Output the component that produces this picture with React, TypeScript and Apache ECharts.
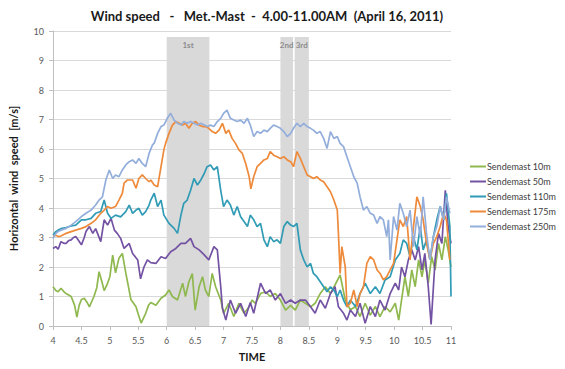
import React, { useEffect, useRef } from "react";
import * as echarts from "echarts";

const seriesNames = ["Sendemast 10m", "Sendemast 50m", "Sendemast 110m", "Sendemast 175m", "Sendemast 250m"];
const seriesColors = ["#8fb84e", "#7452a3", "#2f9bb5", "#ee8a3a", "#93aedb"];
const xTicks = [4, 4.5, 5, 5.5, 6, 6.5, 7, 7.5, 8, 8.5, 9, 9.5, 10, 10.5, 11];
const bandNames = ["1st", "2nd", "3rd"];
const bandStart = [6.0, 8.0, 8.25];
const bandEnd = [6.75, 8.22, 8.5];
const bandTop = 9.8;

const s10 = [[4.0,1.33],[4.05,1.2],[4.09,1.16],[4.14,1.28],[4.2,1.15],[4.23,1.1],[4.32,1.0],[4.38,0.7],[4.42,0.3],[4.46,0.7],[4.5,0.9],[4.55,0.94],[4.6,0.8],[4.64,0.65],[4.72,1.0],[4.77,1.3],[4.81,1.84],[4.86,1.5],[4.9,1.2],[4.95,1.4],[5.0,1.67],[5.05,2.4],[5.1,1.8],[5.16,2.3],[5.22,2.46],[5.28,1.8],[5.33,1.3],[5.37,0.9],[5.46,0.65],[5.5,0.4],[5.55,0.1],[5.63,0.43],[5.68,0.7],[5.72,0.8],[5.81,0.7],[5.9,0.94],[5.98,1.05],[6.04,1.22],[6.1,1.0],[6.19,0.88],[6.28,1.45],[6.33,1.0],[6.39,1.5],[6.45,1.78],[6.5,0.54],[6.57,1.33],[6.63,1.67],[6.68,1.22],[6.74,1.0],[6.8,1.78],[6.86,1.33],[6.95,0.88],[7.0,0.43],[7.09,0.77],[7.18,0.32],[7.27,0.77],[7.36,0.43],[7.45,0.65],[7.5,0.88],[7.56,0.77],[7.65,1.1],[7.74,1.16],[7.82,1.0],[7.91,1.1],[8.0,0.88],[8.09,0.54],[8.18,0.7],[8.26,0.54],[8.35,0.88],[8.44,0.77],[8.53,0.65],[8.61,0.77],[8.7,1.1],[8.79,1.33],[8.88,1.1],[8.96,1.39],[9.05,1.73],[9.14,0.88],[9.23,0.55],[9.32,0.66],[9.4,0.32],[9.49,0.77],[9.58,0.37],[9.67,0.66],[9.75,0.32],[9.84,0.66],[9.93,0.48],[10.02,0.77],[10.08,0.2],[10.13,0.88],[10.19,1.67],[10.25,1.0],[10.31,1.9],[10.37,1.33],[10.43,2.24],[10.49,1.67],[10.54,2.24],[10.6,1.45],[10.66,2.35],[10.72,1.9],[10.78,2.8],[10.84,2.24],[10.9,3.03],[10.95,2.58],[11.0,2.0]];

const s50 = [[4.0,2.63],[4.05,2.69],[4.09,2.6],[4.14,2.86],[4.2,2.8],[4.23,2.8],[4.28,2.9],[4.32,2.92],[4.36,3.0],[4.4,3.03],[4.45,2.9],[4.5,2.75],[4.55,3.0],[4.58,3.2],[4.64,3.37],[4.7,3.14],[4.75,3.3],[4.84,2.86],[4.9,3.6],[4.96,3.42],[5.02,3.65],[5.08,3.25],[5.13,3.14],[5.19,2.97],[5.25,2.63],[5.34,2.8],[5.4,2.46],[5.49,2.24],[5.54,1.6],[5.6,2.0],[5.66,2.24],[5.72,2.15],[5.81,2.12],[5.9,2.35],[5.98,2.29],[6.07,2.52],[6.16,2.63],[6.25,2.8],[6.33,2.8],[6.42,2.97],[6.48,2.69],[6.57,2.58],[6.66,2.41],[6.74,2.24],[6.83,2.69],[6.89,2.58],[6.95,1.33],[6.98,0.6],[7.04,0.2],[7.12,0.88],[7.21,0.43],[7.3,0.77],[7.39,0.32],[7.47,0.8],[7.53,0.43],[7.65,1.45],[7.74,1.1],[7.82,1.22],[7.91,0.88],[8.0,1.1],[8.09,0.77],[8.18,0.88],[8.26,0.77],[8.35,0.88],[8.44,0.88],[8.53,0.65],[8.61,0.43],[8.7,0.88],[8.79,0.6],[8.88,1.1],[8.96,1.33],[9.02,0.65],[9.11,0.43],[9.17,0.2],[9.23,0.54],[9.32,0.32],[9.4,0.77],[9.49,0.09],[9.58,0.66],[9.67,0.32],[9.75,0.88],[9.84,0.54],[9.93,1.1],[10.02,1.45],[10.08,1.22],[10.13,2.0],[10.19,1.67],[10.25,2.24],[10.31,2.58],[10.37,2.24],[10.43,2.69],[10.49,1.9],[10.54,2.46],[10.6,1.33],[10.65,0.05],[10.72,2.24],[10.78,3.14],[10.84,2.8],[10.9,4.6],[10.95,3.37],[11.0,2.8]];

const s110 = [[4.0,3.08],[4.05,3.2],[4.09,3.25],[4.14,3.3],[4.23,3.34],[4.32,3.39],[4.4,3.42],[4.5,3.6],[4.58,3.6],[4.67,3.65],[4.75,3.82],[4.84,3.88],[4.9,4.27],[4.96,3.82],[5.02,3.65],[5.1,3.76],[5.19,3.7],[5.28,3.88],[5.34,4.1],[5.4,3.82],[5.46,3.93],[5.51,3.99],[5.57,3.76],[5.63,3.88],[5.69,4.1],[5.72,4.27],[5.78,4.5],[5.84,4.05],[5.9,4.27],[5.95,3.76],[6.04,3.48],[6.13,3.31],[6.19,3.14],[6.25,3.76],[6.3,4.16],[6.36,4.27],[6.42,4.6],[6.48,5.0],[6.54,4.78],[6.6,4.95],[6.66,5.17],[6.71,5.4],[6.77,5.46],[6.83,5.29],[6.89,5.4],[6.95,4.6],[7.0,4.05],[7.06,4.27],[7.12,4.1],[7.18,3.76],[7.24,4.05],[7.3,3.7],[7.36,3.54],[7.42,3.37],[7.47,3.76],[7.53,3.6],[7.59,3.37],[7.65,3.48],[7.71,2.92],[7.77,2.69],[7.82,3.03],[7.88,2.86],[7.94,2.92],[8.0,2.8],[8.06,3.37],[8.12,3.54],[8.18,3.42],[8.23,3.37],[8.29,3.48],[8.35,2.58],[8.41,2.24],[8.47,2.0],[8.53,2.12],[8.58,1.78],[8.64,1.67],[8.7,1.5],[8.76,1.33],[8.82,1.16],[8.88,1.33],[8.94,1.22],[9.0,1.0],[9.05,1.22],[9.11,0.88],[9.17,0.65],[9.23,0.88],[9.32,0.66],[9.4,1.1],[9.49,1.45],[9.58,1.1],[9.67,1.33],[9.75,1.1],[9.84,1.56],[9.93,1.67],[10.02,2.24],[10.1,2.46],[10.16,2.92],[10.22,2.8],[10.28,2.35],[10.34,3.03],[10.4,2.58],[10.46,3.37],[10.51,2.58],[10.57,2.92],[10.63,2.24],[10.69,3.03],[10.75,3.6],[10.81,4.05],[10.87,3.6],[10.92,4.5],[10.98,3.37],[11.0,1.0]];

const s175 = [[4.0,3.03],[4.05,3.08],[4.09,3.03],[4.14,3.05],[4.23,3.14],[4.32,3.2],[4.4,3.25],[4.5,3.31],[4.58,3.37],[4.67,3.48],[4.75,3.6],[4.84,3.82],[4.9,3.93],[4.96,4.05],[5.02,3.99],[5.1,4.05],[5.16,4.27],[5.22,4.5],[5.25,4.84],[5.31,4.95],[5.4,4.95],[5.46,4.67],[5.51,5.0],[5.57,5.12],[5.63,5.0],[5.69,4.89],[5.72,4.95],[5.78,4.78],[5.84,4.72],[5.9,5.4],[5.95,5.97],[5.98,6.19],[6.04,6.53],[6.1,6.81],[6.16,6.93],[6.22,6.87],[6.28,6.81],[6.33,6.87],[6.39,6.7],[6.45,6.87],[6.51,6.93],[6.57,6.81],[6.63,6.76],[6.68,6.76],[6.74,6.7],[6.8,6.59],[6.86,6.53],[6.92,6.64],[6.98,6.87],[7.04,6.53],[7.09,6.64],[7.15,6.36],[7.21,6.19],[7.27,5.97],[7.33,5.85],[7.39,5.5],[7.45,5.06],[7.48,4.65],[7.53,5.06],[7.59,5.4],[7.65,5.51],[7.71,5.63],[7.77,5.68],[7.82,5.91],[7.88,5.79],[7.94,5.74],[8.0,5.68],[8.06,5.74],[8.12,5.63],[8.18,5.57],[8.23,5.4],[8.29,5.91],[8.35,5.68],[8.41,5.4],[8.47,5.12],[8.53,5.06],[8.58,5.0],[8.64,5.06],[8.7,4.95],[8.76,4.89],[8.82,4.72],[8.88,4.55],[8.94,4.27],[9.0,3.93],[9.02,3.14],[9.05,1.78],[9.08,2.69],[9.14,2.0],[9.17,0.65],[9.23,0.77],[9.29,1.22],[9.35,0.66],[9.4,1.1],[9.46,1.33],[9.52,2.12],[9.58,2.35],[9.64,2.24],[9.7,1.9],[9.75,1.79],[9.81,1.56],[9.87,1.67],[9.93,1.9],[9.99,2.12],[10.05,2.92],[10.1,3.6],[10.16,3.37],[10.22,3.71],[10.28,2.24],[10.34,3.37],[10.4,4.38],[10.46,4.05],[10.51,3.6],[10.57,2.8],[10.63,2.24],[10.69,2.8],[10.75,3.03],[10.81,3.37],[10.87,3.82],[10.92,3.6],[10.98,2.24]];

const s250 = [[4.0,2.97],[4.05,3.14],[4.09,3.2],[4.14,3.25],[4.23,3.31],[4.32,3.42],[4.4,3.54],[4.5,3.71],[4.58,3.82],[4.67,3.93],[4.75,4.1],[4.81,4.27],[4.87,4.38],[4.93,4.95],[4.99,5.29],[5.05,5.0],[5.1,5.12],[5.16,5.06],[5.22,5.29],[5.28,5.46],[5.34,5.57],[5.4,5.63],[5.46,5.51],[5.51,5.68],[5.57,5.51],[5.63,5.4],[5.69,5.85],[5.75,6.14],[5.78,6.2],[5.84,6.53],[5.9,6.76],[5.95,6.81],[6.01,7.04],[6.07,7.21],[6.13,6.98],[6.19,6.87],[6.25,6.81],[6.3,6.93],[6.36,6.87],[6.42,6.93],[6.48,6.87],[6.54,6.81],[6.6,6.87],[6.66,6.81],[6.71,6.76],[6.77,6.81],[6.83,6.76],[6.89,6.93],[6.95,7.04],[7.0,7.21],[7.06,7.32],[7.12,7.04],[7.18,6.98],[7.24,6.93],[7.3,6.98],[7.36,6.87],[7.42,7.04],[7.47,6.81],[7.53,6.42],[7.59,6.59],[7.65,6.53],[7.71,6.64],[7.77,6.59],[7.82,6.7],[7.88,6.81],[7.94,6.76],[8.0,6.7],[8.06,6.59],[8.12,6.42],[8.18,6.53],[8.23,6.7],[8.29,6.87],[8.35,6.76],[8.41,6.87],[8.47,6.76],[8.53,6.7],[8.58,6.64],[8.64,6.53],[8.7,6.59],[8.76,6.36],[8.82,6.02],[8.88,6.59],[8.94,6.36],[9.0,6.42],[9.05,6.19],[9.11,6.08],[9.17,5.74],[9.23,5.4],[9.29,5.06],[9.35,4.84],[9.4,4.38],[9.46,3.93],[9.52,4.05],[9.58,3.82],[9.64,3.76],[9.7,3.48],[9.75,3.71],[9.81,3.6],[9.87,3.03],[9.9,3.6],[9.93,2.24],[9.99,3.71],[10.05,3.25],[10.1,4.16],[10.16,3.82],[10.22,3.37],[10.28,3.93],[10.34,2.69],[10.4,3.71],[10.46,3.03],[10.51,4.38],[10.57,3.14],[10.63,2.24],[10.69,3.03],[10.75,3.37],[10.81,4.05],[10.87,3.6],[10.92,4.38],[10.98,3.82]];

const allSeries = [s10, s50, s110, s175, s250];
const FONT = "Lato";

export default function App() {
  const ref = useRef<HTMLDivElement>(null);
  useEffect(() => {
    const chart = echarts.init(ref.current!, null, { renderer: "svg" });
    const bands = bandNames.map((n, i) => [
      { name: n, coord: [bandStart[i], 0] },
      { coord: [bandEnd[i], bandTop] },
    ]);
    chart.setOption({
      animation: false,
      backgroundColor: "#ffffff",
      textStyle: { fontFamily: FONT },
      title: {
        text: "Wind speed   -   Met.-Mast  -  4.00-11.00AM  (April 16, 2011)",
        left: 262,
        textAlign: "center",
        top: 4,
        textStyle: { fontFamily: FONT, fontSize: 13, fontWeight: "bold", color: "#1a1a1a" },
      },
      legend: {
        orient: "vertical",
        left: 470,
        top: 162,
        width: 94,
        padding: 0,
        itemWidth: 16,
        itemHeight: 10,
        itemGap: 6,
        icon: "path://M0,4 L16,4 L16,6 L0,6 Z",
        textStyle: { fontFamily: FONT, fontSize: 9, color: "#404040", padding: [0, 0, 0, -4], overflow: "none", width: 80 },
        data: seriesNames,
      },
      grid: { left: 52, right: 114, top: 31, bottom: 43 },
      xAxis: {
        type: "value",
        min: 4,
        max: 11,
        interval: 0.5,
        name: "TIME",
        nameLocation: "middle",
        nameGap: 25,
        nameTextStyle: { fontFamily: FONT, fontSize: 11, fontWeight: "bold", color: "#1a1a1a" },
        axisLine: { show: true, lineStyle: { color: "#bfbfbf" } },
        axisTick: { show: true, length: 4, lineStyle: { color: "#bfbfbf" } },
        axisLabel: {
          fontFamily: FONT, fontSize: 9, color: "#595959", margin: 10,
          formatter: (v: number) => (xTicks.includes(v) ? String(v) : ""),
        },
        splitLine: { show: false },
      },
      yAxis: {
        type: "value",
        min: 0,
        max: 10,
        interval: 1,
        name: "Horizontal  wind  speed  [m/s]",
        nameLocation: "middle",
        nameGap: 34,
        nameTextStyle: { fontFamily: FONT, fontSize: 11, fontWeight: "bold", color: "#1a1a1a" },
        axisLine: { show: true, lineStyle: { color: "#bfbfbf" } },
        axisTick: { show: true, length: 4, inside: false, lineStyle: { color: "#bfbfbf" } },
        axisLabel: { fontFamily: FONT, fontSize: 9, color: "#595959", margin: 9 },
        splitLine: { show: true, lineStyle: { color: "#d9d9d9", width: 1 } },
      },
      series: [
        {
          type: "line",
          name: "bands",
          data: [],
          z: 1,
          silent: true,
          markArea: {
            silent: true,
            itemStyle: { color: "#d9d9d9" },
            label: {
              show: true,
              position: "insideTop",
              distance: 4,
              fontFamily: FONT,
              fontSize: 8,
              fontWeight: "bold",
              color: "#8c8c8c",
            },
            data: bands,
          },
        },
        ...allSeries.map((d, i) => ({
          type: "line",
          name: seriesNames[i],
          data: d,
          z: 2 + i,
          showSymbol: false,
          symbol: "none",
          lineStyle: { width: 1.7, color: seriesColors[i] },
          itemStyle: { color: seriesColors[i] },
        })),
      ],
    });
    return () => chart.dispose();
  }, []);
  return <div ref={ref} style={{ width: 565, height: 369, margin: -8 }} />;
}
